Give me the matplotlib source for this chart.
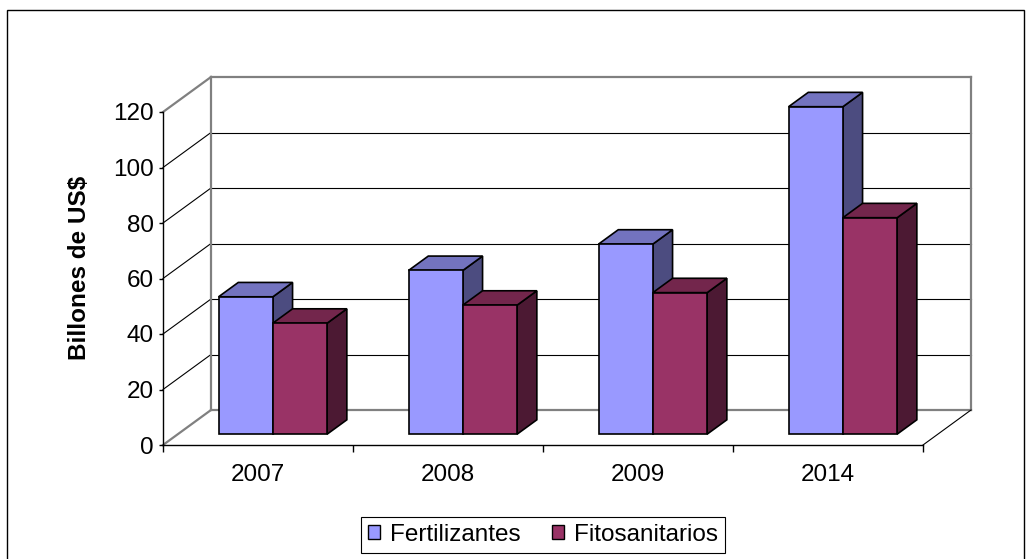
import matplotlib
matplotlib.use("Agg")
import matplotlib.pyplot as plt
from matplotlib.patches import Polygon, Patch, Rectangle
import numpy as np

years = ["2007", "2008", "2009", "2014"]
fertilizantes = [49.5, 59, 68.5, 118]
fitosanitarios = [40, 46.5, 51, 78]
series_names = ["Fertilizantes", "Fitosanitarios"]
y_ticks = [0, 20, 40, 60, 80, 100, 120]

plt.rcParams['font.family'] = ['Liberation Sans', 'DejaVu Sans']

W, H = 1032, 559
fig = plt.figure(figsize=(W / 100, H / 100), dpi=100)
ax = fig.add_axes([163 / W, 1 - 445 / H, (923 - 163) / W, (445 - 112) / H])
n = len(years)
ax.set_xlim(0, n)
ax.set_ylim(0, 120)
ax.patch.set_visible(False)

# depth of the 3d box in data units (48 px right, 35 px up)
dx = 48 / ((923 - 163) / n)
dy = 35 / ((445 - 112) / 120)

# colours: front, top, side
blue = ("#9999FF", "#7373BF", "#4C4C80")
red = ("#993366", "#73264C", "#4C1933")

# walls and floor
gray = "#808080"
for v in y_ticks[1:-1]:
    ax.plot([dx, n + dx], [v + dy, v + dy], color="black", lw=0.8, clip_on=False, zorder=1)
    ax.plot([0, dx], [v, v + dy], color="black", lw=0.8, clip_on=False, zorder=1)
wall_edges = [
    ([dx, dx], [dy, 120 + dy]),
    ([dx, n + dx], [120 + dy, 120 + dy]),
    ([n + dx, n + dx], [dy, 120 + dy]),
    ([dx, n + dx], [dy, dy]),
    ([0, dx], [120, 120 + dy]),
    ([0, dx], [0, dy]),
]
for xs, ys in wall_edges:
    ax.plot(xs, ys, color=gray, lw=1.6, clip_on=False, zorder=1)
ax.plot([n, n + dx], [0, dy], color="black", lw=0.8, clip_on=False, zorder=1)


def box(x0, x1, h, z0, z1, cols):
    def p(x, y, z):
        return (x + z * dx, y + z * dy)
    front = [p(x0, 0, z0), p(x1, 0, z0), p(x1, h, z0), p(x0, h, z0)]
    top = [p(x0, h, z0), p(x1, h, z0), p(x1, h, z1), p(x0, h, z1)]
    side = [p(x1, 0, z0), p(x1, 0, z1), p(x1, h, z1), p(x1, h, z0)]
    for poly, c in ((side, cols[2]), (top, cols[1]), (front, cols[0])):
        ax.add_patch(Polygon(poly, closed=True, fc=c, ec="black", lw=1.2,
                             joinstyle="miter", clip_on=False, zorder=3))


bw = 1 / 3.5
z0, z1 = 0.31, 0.72
for i in range(n):
    c = i + 0.5
    box(c - bw, c, fertilizantes[i], z0, z1, blue)
    box(c, c + bw, fitosanitarios[i], z0, z1, red)

# axes
for s in ("top", "right"):
    ax.spines[s].set_visible(False)
ax.spines["left"].set_linewidth(1.0)
ax.spines["bottom"].set_linewidth(1.0)
ax.set_yticks(y_ticks)
ax.tick_params(axis="y", length=3, width=1, pad=3.5, labelsize=17.5)
ax.set_xticks(range(n + 1))
ax.set_xticklabels([])
ax.set_xticks(np.arange(n) + 0.5, minor=True)
ax.set_xticklabels(years, minor=True)
ax.tick_params(axis="x", which="major", length=5, width=1)
ax.tick_params(axis="x", which="minor", length=0, pad=14, labelsize=17.5)

fig.text(80 / W, 1 - 268 / H, "Billones de US$", rotation=90, fontsize=17.5,
         fontweight="bold", ha="center", va="center")

handles = [Patch(fc=blue[0], ec="black", lw=1), Patch(fc=red[0], ec="black", lw=1)]
leg = fig.legend(handles, series_names, loc="center", bbox_to_anchor=(543 / W, 1 - 535 / H),
                 ncol=2, fontsize=17.5, frameon=True, fancybox=False, edgecolor="black",
                 handlelength=0.5, handleheight=0.5, handletextpad=0.4,
                 columnspacing=1.3, borderpad=0.3, framealpha=1)
leg.get_frame().set_linewidth(0.8)

fig.add_artist(Rectangle((7 / W, -0.05), (1024 - 7) / W, 1.05 - 10 / H,
                         transform=fig.transFigure, fill=False, ec="black", lw=1))

fig.savefig("out.png", dpi=100)
